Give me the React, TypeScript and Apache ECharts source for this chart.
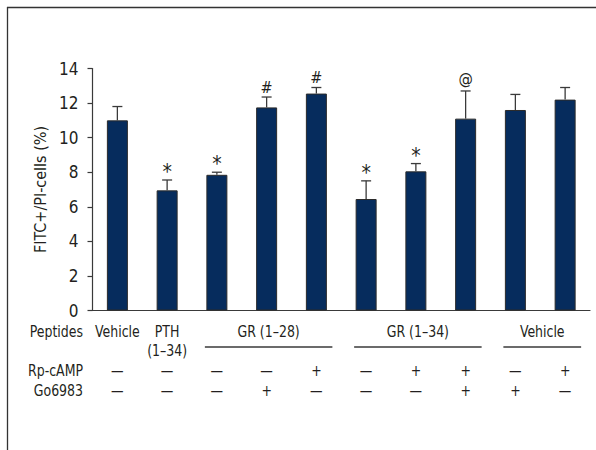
import { useEffect, useRef } from "react";
import * as echarts from "echarts";

// Treatment groups, one bar each
const categories = [
  "Vehicle",
  "PTH (1–34)",
  "GR (1–28)",
  "GR (1–28) + Go6983",
  "GR (1–28) + Rp-cAMP",
  "GR (1–34)",
  "GR (1–34) + Rp-cAMP",
  "GR (1–34) + Rp-cAMP + Go6983",
  "Vehicle + Go6983",
  "Vehicle + Rp-cAMP",
];
const means = [11.0, 6.95, 7.85, 11.75, 12.55, 6.45, 8.05, 11.1, 11.6, 12.2];
const errors = [0.8, 0.6, 0.15, 0.6, 0.35, 1.05, 0.45, 1.6, 0.9, 0.7];
const marks = ["", "*", "*", "#", "#", "*", "*", "@", "", ""];

const yMin = 0;
const yMax = 14;
const yStep = 2;

// Treatment table under the axis
const rowLabels = ["Peptides", "Rp-cAMP", "Go6983"];
const peptideSingles = [
  { index: 0, label: "Vehicle" },
  { index: 1, label: "PTH\n(1–34)" },
];
const peptideGroups = [
  { label: "GR (1–28)", first: 2, last: 4 },
  { label: "GR (1–34)", first: 5, last: 7 },
  { label: "Vehicle", first: 8, last: 9 },
];
const rpCamp = ["—", "—", "—", "—", "+", "—", "+", "+", "—", "+"];
const go6983 = ["—", "—", "—", "+", "—", "—", "—", "+", "+", "—"];

const FONT = "'Liberation Sans Narrow', 'DejaVu Sans Condensed', 'Arial Narrow', sans-serif";
const INK = "#231f20";
const BAR = "#062c5d";

export default function App() {
  const ref = useRef<HTMLDivElement>(null);

  useEffect(() => {
    if (!ref.current) return;
    const chart = echarts.init(ref.current, null, { renderer: "svg" });

    chart.setOption({
      animation: false,
      backgroundColor: "#ffffff",
      grid: {
        left: 92.5,
        right: 6,
        top: 68.5,
        bottom: 139.5,
        containLabel: false,
        outerBoundsMode: "none",
      },
      xAxis: {
        type: "category",
        data: categories,
        axisLine: { lineStyle: { color: "#3a3a3a", width: 1.2 } },
        axisTick: { show: false },
        axisLabel: { show: false },
      },
      yAxis: {
        type: "value",
        min: yMin,
        max: yMax,
        interval: yStep,
        name: "FITC+/PI-cells (%)",
        nameLocation: "middle",
        nameGap: 42,
        nameTextStyle: { fontFamily: FONT, fontSize: 16, color: INK },
        axisLine: { show: true, lineStyle: { color: "#3a3a3a", width: 1.2 } },
        axisTick: { show: true, length: 5, lineStyle: { color: "#3a3a3a", width: 1.2 } },
        axisLabel: { fontFamily: FONT, fontSize: 17, color: INK, margin: 14 },
        splitLine: { show: false },
      },
      series: [
        {
          type: "bar",
          data: means,
          barWidth: 21,
          itemStyle: { color: BAR, borderColor: "#2b2b2b", borderWidth: 1 },
          z: 2,
        },
        {
          type: "custom",
          data: means.map((m, i) => [i, m, errors[i]]),
          z: 3,
          renderItem: (params: any, api: any) => {
            const i = api.value(0);
            const m = api.value(1);
            const e = api.value(2);
            const base = api.coord([i, m]);
            const top = api.coord([i, m + e]);
            const half = 5;
            const mark = marks[params.dataIndex];
            const lineStyle = { stroke: "#3a3a3a", lineWidth: 1.3 };
            const children: any[] = [
              { type: "line", shape: { x1: base[0], y1: base[1], x2: top[0], y2: top[1] }, style: lineStyle },
              { type: "line", shape: { x1: top[0] - half, y1: top[1], x2: top[0] + half, y2: top[1] }, style: lineStyle },
            ];
            if (mark) {
              const lift = mark === "*" ? 8 : mark === "#" ? 10 : 12;
              children.push({
                type: "text",
                x: top[0],
                y: top[1] - lift,
                style: {
                  text: mark,
                  fontFamily: FONT,
                  fontSize: mark === "*" ? 21 : 16,
                  fill: INK,
                  align: "center",
                  verticalAlign: "middle",
                },
              });
            }
            return { type: "group", children };
          },
        },
      ],
    });

    // Table below the axis, placed at each category's pixel position
    const xs = categories.map((_, i) => chart.convertToPixel({ xAxisIndex: 0 }, i) as number);
    const rowY = { peptides: 332, rp: 371, go: 391 };
    const labelRight = 83;
    const textStyle = { fontFamily: FONT, fontSize: 16, fill: INK };
    const squeeze = 0.87;
    const graphics: any[] = [];

    const addText = (x: number, y: number, text: string, align: string) => {
      graphics.push({
        type: "text",
        x,
        y,
        scaleX: squeeze,
        style: { ...textStyle, text, align, verticalAlign: "middle" },
      });
    };

    // frame lines
    graphics.push({
      type: "line",
      shape: { x1: 7.5, y1: 7, x2: 7.5, y2: 450 },
      style: { stroke: "#333", lineWidth: 1.3 },
    });
    graphics.push({
      type: "line",
      shape: { x1: 7, y1: 7.5, x2: 596, y2: 7.5 },
      style: { stroke: "#333", lineWidth: 1.3 },
    });

    [rowY.peptides, rowY.rp, rowY.go].forEach((y, r) => addText(labelRight, y, rowLabels[r], "right"));

    peptideSingles.forEach((s) => {
      s.label.split("\n").forEach((line, k) => addText(xs[s.index], rowY.peptides + k * 19, line, "center"));
    });

    peptideGroups.forEach((g) => {
      const x1 = xs[g.first] - 12;
      const x2 = xs[g.last] + 16;
      addText((x1 + x2) / 2, rowY.peptides, g.label, "center");
      graphics.push({
        type: "line",
        shape: { x1, y1: 347, x2, y2: 347 },
        style: { stroke: "#3a3a3a", lineWidth: 1.3 },
      });
    });

    rpCamp.forEach((t, i) => addText(xs[i], rowY.rp, t, "center"));
    go6983.forEach((t, i) => addText(xs[i], rowY.go, t, "center"));

    chart.setOption({ graphic: graphics });

    return () => chart.dispose();
  }, []);

  return (
    <div
      ref={ref}
      style={{ position: "fixed", left: 0, top: 0, width: 596, height: 450, background: "#fff" }}
    />
  );
}
